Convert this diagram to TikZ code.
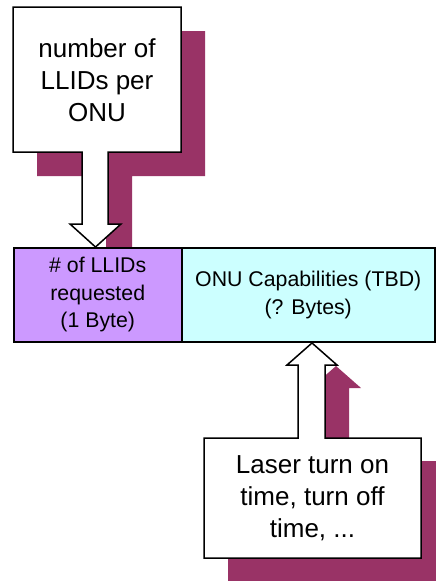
\documentclass[tikz,border=0pt]{standalone}
\usepackage{fontspec}
\setmainfont{Liberation Sans}
\definecolor{shadowc}{HTML}{993366}
\definecolor{lilac}{HTML}{CC99FF}
\definecolor{paleaqua}{HTML}{CCFFFF}
\tikzset{
  outline/.style={draw=black, line width=1.5pt, line join=miter},
  shadowfill/.style={fill=shadowc, draw=none},
  bigtext/.style={align=center, font=\fontsize{26}{32}\selectfont, inner sep=0pt},
  celltext/.style={align=center, font=\fontsize{21.3}{27.5}\selectfont, inner sep=0pt}
}
\begin{document}
\begin{tikzpicture}[x=1pt, y=-1pt]
\useasboundingbox (0,0) rectangle (436,581);
% callout outlines
\def\topcallout{(13,7) -- (181,7) -- (181,152) -- (108,152) -- (108,224) -- (121,224) -- (95.5,247) -- (70,224) -- (82,224) -- (82,152) -- (13,152) -- cycle}
\def\botcallout{(204,558) -- (421,558) -- (421,438) -- (325,438) -- (325,365) -- (337,365) -- (312,343) -- (287,365) -- (298,365) -- (298,438) -- (204,438) -- cycle}
% shadows
\fill[shadowfill, shift={(24,24)}] \topcallout;
\fill[shadowfill, shift={(24,23)}] \botcallout;
% record
\node[outline, fill=lilac, minimum width=168pt, minimum height=94pt, anchor=north west, inner sep=0pt] (llids) at (13,247) {};
\node[outline, fill=paleaqua, minimum width=253pt, minimum height=94pt, anchor=north west, inner sep=0pt] (caps) at (181,247) {};
\node[celltext] (llidstext) at (llids.center) {\# of LLIDs\\requested\\(1 Byte)};
\node[celltext] (capstext) at (caps.center) {ONU Capabilities (TBD)\\(? Bytes)};
% callouts
\filldraw[outline, fill=white] \topcallout;
\filldraw[outline, fill=white] \botcallout;
\node[bigtext] (toptext) at (97,80) {number of\\LLIDs per\\ONU};
\node[bigtext] (bottext) at (312.5,498) {Laser turn on\\time, turn off\\time, ...};
\end{tikzpicture}
\end{document}
